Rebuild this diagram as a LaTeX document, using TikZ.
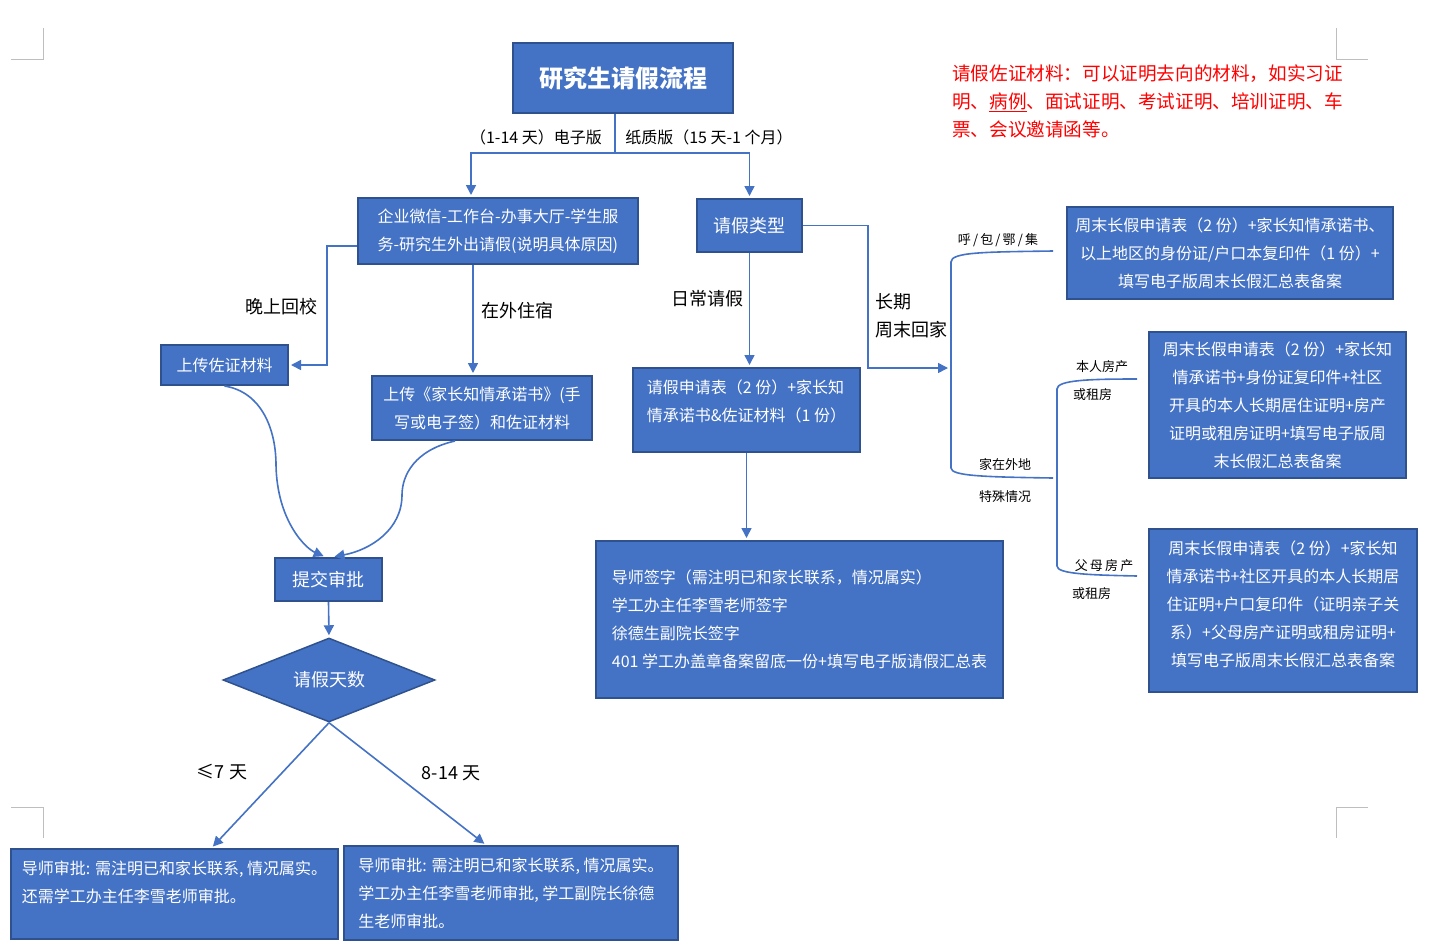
\documentclass[tikz,border=0pt]{standalone}
\usepackage{fontspec}
\setmainfont{Noto Sans CJK SC}
\usetikzlibrary{shapes.geometric, arrows.meta, positioning, calc}

\definecolor{boxblue}{RGB}{68,114,196}
\definecolor{boxedge}{RGB}{47,82,143}
\definecolor{markgray}{RGB}{190,190,190}
\newcommand{\boxfnt}{\fontsize{16}{28}\selectfont}
\newcommand{\bigfnt}{\fontsize{18}{28}\selectfont}
\newcommand{\tinyfnt}{\fontsize{13}{28}\selectfont}

\tikzset{
    flowbox/.style={draw=boxedge, line width=2pt, fill=boxblue, text=white, inner sep=0pt, font=\boxfnt},
    leftbox/.style={flowbox, align=left},
    midbox/.style={flowbox, align=center},
    link/.style={draw=boxblue, line width=1.6pt},
    arr/.style={link, -{Triangle[length=10pt, width=10pt]}, shorten >=2pt},
    tag/.style={inner sep=0pt, font=\boxfnt},
}

\begin{document}
\begin{tikzpicture}[x=1pt, y=-1pt]
    \useasboundingbox (0,0) rectangle (1449,951);
    % crop marks
    \foreach \cx/\cy/\dx/\dy in {43/59/-32/-31, 1336/59/32/-31, 43/807/-32/31, 1336/807/32/31}
        \draw[markgray, line width=1pt] ({\cx+\dx},\cy) -- (\cx,\cy) -- (\cx,{\cy+\dy});

    % boxes
    \node[midbox, minimum width=220pt, minimum height=70pt, font=\fontsize{24}{28}\selectfont\bfseries] (title) at (623,78) {研究生请假流程};
    \node[leftbox, minimum width=280pt, minimum height=66pt] (wechat) at (498,231) {企业微信-工作台-办事大厅-学生服\\务-研究生外出请假(说明具体原因)};
    \node[midbox, minimum width=105pt, minimum height=53pt, font=\bigfnt] (kind) at (749.5,225.5) {请假类型};
    \node[midbox, minimum width=127pt, minimum height=40pt] (proof) at (224.5,365) {上传佐证材料};
    \node[midbox, minimum width=220pt, minimum height=64pt] (promise) at (482,408) {上传《家长知情承诺书》(手\\写或电子签）和佐证材料};
    \node[leftbox, minimum width=227pt, minimum height=84pt, text depth=18pt] (daily) at (746.5,410) {请假申请表（2 份）+家长知\\情承诺书\&佐证材料（1 份）};
    \node[leftbox, minimum width=407pt, minimum height=157pt] (sign) at (799.5,619.5) {导师签字（需注明已和家长联系，情况属实）\\学工办主任李雪老师签字\\徐德生副院长签字\\401 学工办盖章备案留底一份+填写电子版请假汇总表};
    \node[midbox, minimum width=326pt, minimum height=92pt] (local) at (1230,253) {周末长假申请表（2 份）+家长知情承诺书、\\以上地区的身份证/户口本复印件（1 份）+\\填写电子版周末长假汇总表备案};
    \node[midbox, minimum width=257pt, minimum height=146pt] (ownhouse) at (1277.5,405) {周末长假申请表（2 份）+家长知\\情承诺书+身份证复印件+社区\\开具的本人长期居住证明+房产\\证明或租房证明+填写电子版周\\末长假汇总表备案};
    \node[midbox, minimum width=268pt, minimum height=163pt, text depth=14pt] (parenthouse) at (1283,610.5) {周末长假申请表（2 份）+家长知\\情承诺书+社区开具的本人长期居\\住证明+户口复印件（证明亲子关\\系）+父母房产证明或租房证明+\\填写电子版周末长假汇总表备案};
    \node[midbox, minimum width=107pt, minimum height=43pt, font=\bigfnt] (submit) at (328.5,579.5) {提交审批};
    \node[flowbox, diamond, aspect=2.5, line width=1.5pt, minimum width=212pt, minimum height=84pt, font=\bigfnt] (days) at (329,680) {请假天数};
    \node[leftbox, minimum width=327pt, minimum height=90pt, text depth=24pt] (short) at (174.5,894) {导师审批: 需注明已和家长联系, 情况属实。\\还需学工办主任李雪老师审批。};
    \node[leftbox, minimum width=334pt, minimum height=94pt] (long) at (511,893) {导师审批: 需注明已和家长联系, 情况属实。\\学工办主任李雪老师审批, 学工副院长徐德\\生老师审批。};

    % labels
    \node[tag] (elec) at (536,137) {（1-14 天）电子版};
    \node[tag] (paper) at (709,137) {纸质版（15 天-1 个月）};
    \node[tag, font=\bigfnt] (night) at (281,307) {晚上回校};
    \node[tag, font=\bigfnt] (stay) at (517,311) {在外住宿};
    \node[tag, font=\bigfnt] (routine) at (707,299) {日常请假};
    \node[tag, font=\bigfnt, align=left, anchor=west] (home) at (875,316) {长期\\周末回家};
    \node[tag, font=\tinyfnt] (area) at (998,240) {呼\,/\,包\,/\,鄂\,/\,集};
    \node[tag, font=\tinyfnt] (away) at (1005,464) {家在外地};
    \node[tag, font=\tinyfnt] (special) at (1005,497) {特殊情况};
    \node[tag, font=\tinyfnt] (own) at (1102,367) {本人房产};
    \node[tag, font=\tinyfnt, anchor=west] (ownrent) at (1073,395) {或租房};
    \node[tag, font=\tinyfnt] (parent) at (1104,566) {父\,母\,房\,产};
    \node[tag, font=\tinyfnt, anchor=west] (parentrent) at (1072,594) {或租房};
    \node[tag, font=\bigfnt] (le7) at (222,772) {≤7 天};
    \node[tag, font=\bigfnt] (d814) at (451,773) {8-14 天};
    \node[tag, font=\fontsize{18.6}{28}\selectfont, text=red, align=left, anchor=west] (note) at (952,101) {请假佐证材料：可以证明去向的材料，如实习证\\明、\underline{病例}、面试证明、考试证明、培训证明、车\\票、会议邀请函等。};

    % connectors
    \coordinate (split) at (615,153);
    \draw[link] (title.south -| split) -- (split);
    \draw[arr] (split) -| ([xshift=-27pt]wechat.north);
    \draw[arr] (split) -| (kind.north);
    \coordinate (nightbend) at (327,246);
    \draw[arr] ([yshift=-15pt]wechat.west) -- (nightbend) |- (proof.east);
    \draw[arr] ([xshift=-25pt]wechat.south) -- ([xshift=-25pt]wechat.south |- promise.north);
    \draw[arr] (kind.south) -- (kind.south |- daily.north);
    \draw[arr] (daily.south) -- (daily.south |- sign.north);
    \coordinate (longbend) at (868,368);
    \coordinate (brace) at (950,368);
    \draw[arr] (kind.east) -| (longbend) -- (brace);

    \coordinate (braceTop) at (1053,251);
    \coordinate (braceBot) at (1053,478);
    \draw[link] (braceTop) .. controls (985,252) and (951,252) .. (951,262) -- (951,468) .. controls (951,476) and (985,477) .. (braceBot);
    \coordinate (ownTop) at (1137,379);
    \coordinate (ownBot) at (1137,576);
    \draw[link] (ownTop) .. controls (1090,379) and (1057,380) .. (1057,389) -- (1057,566) .. controls (1057,574) and (1090,575) .. (ownBot);

    \draw[arr] (proof.south) .. controls (262,392) and (276,430) .. (276,465) .. controls (277,520) and (305,548) .. ([xshift=-3pt]submit.north);
    \draw[arr] ([xshift=-27pt]promise.south) .. controls (415,450) and (402,475) .. (402,495) .. controls (402,530) and (370,550) .. ([xshift=4pt]submit.north);
    \draw[arr] (submit.south) -- (days.north);
    \draw[arr] (days.south) -- ([xshift=37pt]short.north);
    \draw[arr] (days.south) -- ([xshift=-25pt]long.north);
\end{tikzpicture}
\end{document}
